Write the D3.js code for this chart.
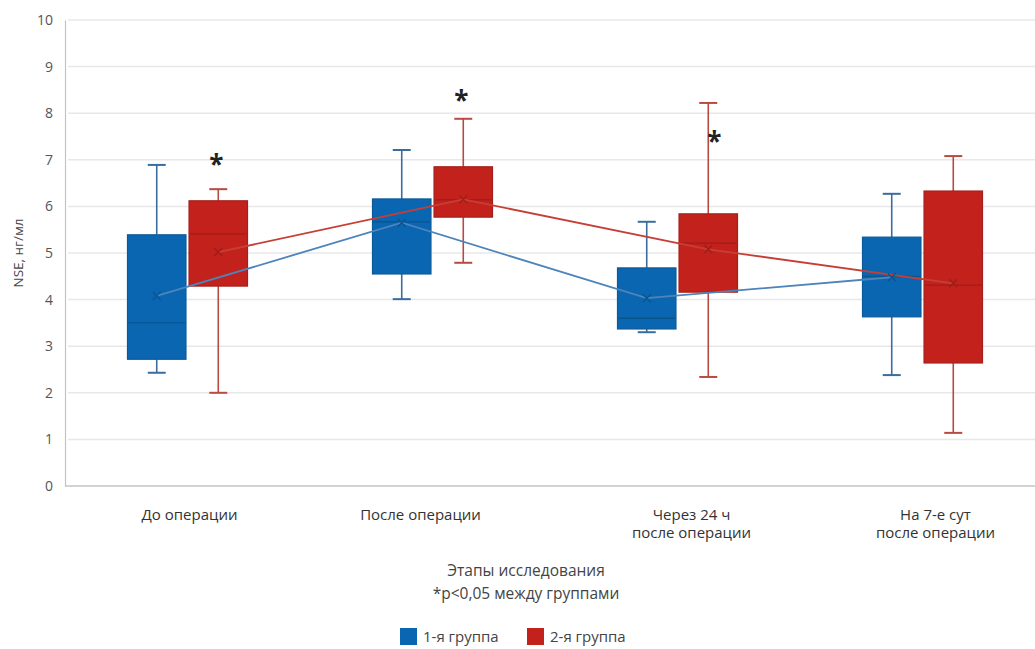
<!DOCTYPE html>
<html>
<head>
<meta charset="utf-8">
<script src="https://cdn.jsdelivr.net/npm/d3@7"></script>
<style>
  body { margin: 0; background: #fff; }
  svg { display: block; }
  text { font-family: "Open Sans", "DejaVu Sans", sans-serif; }
</style>
</head>
<body>
<svg id="chart" width="1035" height="649"></svg>
<script>
// Study stages
const stages = [
  ["До операции"],
  ["После операции"],
  ["Через 24 ч", "после операции"],
  ["На 7-е сут", "после операции"]
];
const stageKeys = stages.map(s => s.join(" "));
const groups = ["1-я группа", "2-я группа"];

// NSE, ng/ml — group 1 box statistics per stage
const g1Min    = [2.43, 4.01, 3.30, 2.38];
const g1Q1     = [2.72, 4.55, 3.37, 3.63];
const g1Median = [3.50, 5.67, 3.60, 4.50];
const g1Q3     = [5.39, 6.16, 4.68, 5.34];
const g1Max    = [6.89, 7.21, 5.67, 6.27];
const g1Mean   = [4.08, 5.65, 4.03, 4.48];

// group 2 box statistics per stage
const g2Min    = [2.00, 4.79, 2.34, 1.14];
const g2Q1     = [4.29, 5.77, 4.16, 2.64];
const g2Median = [5.41, 6.14, 5.21, 4.31];
const g2Q3     = [6.12, 6.85, 5.84, 6.33];
const g2Max    = [6.37, 7.88, 8.22, 7.08];
const g2Mean   = [5.02, 6.15, 5.08, 4.35];

// significance marks (p<0.05) placed at these levels, null = none
const sigLevel = [6.95, 8.32, 7.45, null];

const yTicks = [0, 1, 2, 3, 4, 5, 6, 7, 8, 9, 10];

const colors = {
  fill:   ["#0b66b1", "#c3221c"],
  edge:   ["#0a5998", "#a41f1a"],
  whisk:  ["#3a6c9e", "#b84a44"],
  line:   ["#4c84bb", "#c63f36"],
  median: ["#08548f", "#9e1d18"]
};

const svg = d3.select("#chart");
const plotLeft = 65, plotTop = 20, plotBottom = 486, band = 245;

const x = d3.scaleBand().domain(stageKeys).range([plotLeft, plotLeft + band * 4]);
const sub = d3.scaleBand().domain(groups).range([band / 2 - 60, band / 2 + 60]).paddingInner(0.05);
const y = d3.scaleLinear().domain([0, 10]).range([plotBottom, plotTop]);

// horizontal gridlines
svg.append("g")
  .selectAll("line")
  .data(yTicks.filter(t => t > 0))
  .join("line")
  .attr("x1", plotLeft + 3).attr("x2", 1035)
  .attr("y1", d => y(d)).attr("y2", d => y(d))
  .attr("stroke", "#e8e8e8").attr("stroke-width", 1.5);

// y axis
const yAxis = svg.append("g")
  .attr("transform", `translate(${plotLeft},0)`)
  .call(d3.axisLeft(y).tickValues(yTicks).tickSize(0).tickPadding(12).tickFormat(d3.format("d")));
yAxis.select(".domain").attr("stroke", "#c4c4c4").attr("stroke-width", 1.2);
yAxis.selectAll("text").attr("font-size", 14).attr("fill", "#555")
  .attr("font-family", "'Open Sans', sans-serif");

// x axis baseline
svg.append("line")
  .attr("x1", plotLeft).attr("x2", 1035)
  .attr("y1", y(0)).attr("y2", y(0))
  .attr("stroke", "#c4c4c4").attr("stroke-width", 1.5);

// y axis title
svg.append("text")
  .attr("transform", `translate(23,${(plotTop + plotBottom) / 2}) rotate(-90)`)
  .attr("text-anchor", "middle")
  .attr("font-size", 13.5).attr("fill", "#444")
  .text("NSE, нг/мл");

// build per-group records
const stats = [
  { mn: g1Min, q1: g1Q1, md: g1Median, q3: g1Q3, mx: g1Max, mean: g1Mean },
  { mn: g2Min, q1: g2Q1, md: g2Median, q3: g2Q3, mx: g2Max, mean: g2Mean }
];
const boxes = [];
stats.forEach((s, gi) => {
  stageKeys.forEach((k, i) => {
    boxes.push({
      gi, i,
      cx: x(k) + sub(groups[gi]) + sub.bandwidth() / 2,
      x0: x(k) + sub(groups[gi]),
      w: sub.bandwidth(),
      mn: s.mn[i], q1: s.q1[i], md: s.md[i], q3: s.q3[i], mx: s.mx[i], mean: s.mean[i]
    });
  });
});

const capW = 18;
const bx = svg.append("g").selectAll("g").data(boxes).join("g");

// whiskers
bx.append("line")
  .attr("x1", d => d.cx).attr("x2", d => d.cx)
  .attr("y1", d => y(d.mx)).attr("y2", d => y(d.q3))
  .attr("stroke", d => colors.whisk[d.gi]).attr("stroke-width", 1.6);
bx.append("line")
  .attr("x1", d => d.cx).attr("x2", d => d.cx)
  .attr("y1", d => y(d.q1)).attr("y2", d => y(d.mn))
  .attr("stroke", d => colors.whisk[d.gi]).attr("stroke-width", 1.6);
bx.append("line")
  .attr("x1", d => d.cx - capW / 2).attr("x2", d => d.cx + capW / 2)
  .attr("y1", d => y(d.mx)).attr("y2", d => y(d.mx))
  .attr("stroke", d => colors.whisk[d.gi]).attr("stroke-width", 2);
bx.append("line")
  .attr("x1", d => d.cx - capW / 2).attr("x2", d => d.cx + capW / 2)
  .attr("y1", d => y(d.mn)).attr("y2", d => y(d.mn))
  .attr("stroke", d => colors.whisk[d.gi]).attr("stroke-width", 2);

// boxes
bx.append("rect")
  .attr("x", d => d.x0).attr("width", d => d.w)
  .attr("y", d => y(d.q3)).attr("height", d => y(d.q1) - y(d.q3))
  .attr("fill", d => colors.fill[d.gi])
  .attr("stroke", d => colors.edge[d.gi]).attr("stroke-width", 1.2);

// medians
bx.append("line")
  .attr("x1", d => d.x0 + 1).attr("x2", d => d.x0 + d.w - 1)
  .attr("y1", d => y(d.md)).attr("y2", d => y(d.md))
  .attr("stroke", d => colors.median[d.gi]).attr("stroke-width", 1.3);

// mean trend lines
stats.forEach((s, gi) => {
  const pts = boxes.filter(b => b.gi === gi);
  svg.append("path")
    .datum(pts)
    .attr("fill", "none")
    .attr("stroke", colors.line[gi]).attr("stroke-width", 1.8)
    .attr("d", d3.line().x(d => d.cx).y(d => y(d.mean)));
});

// mean markers (x)
const mk = 4;
const mg = svg.append("g").selectAll("g").data(boxes).join("g")
  .attr("transform", d => `translate(${d.cx},${y(d.mean)})`);
mg.append("path")
  .attr("d", `M${-mk},${-mk}L${mk},${mk}M${-mk},${mk}L${mk},${-mk}`)
  .attr("stroke", d => colors.median[d.gi]).attr("stroke-width", 1.3).attr("fill", "none");

// significance asterisks above group 2
svg.append("g").selectAll("text")
  .data(stageKeys.map((k, i) => ({ k, i, v: sigLevel[i] })).filter(d => d.v !== null))
  .join("text")
  .attr("x", d => {
    const cx = x(d.k) + sub(groups[1]) + sub.bandwidth() / 2;
    return d.v < g2Max[d.i] ? cx + 6 : cx - 2;
  })
  .attr("y", d => y(d.v) + 12)
  .attr("text-anchor", "middle")
  .attr("font-size", 26).attr("font-weight", "bold").attr("fill", "#222")
  .attr("font-family", "'DejaVu Sans', sans-serif")
  .text("*");

// category labels (nudged sideways as in the layout)
const labelNudge = [2, -12, 14, 13];
const cat = svg.append("g").selectAll("text").data(stages).join("text")
  .attr("text-anchor", "middle")
  .attr("font-size", 15).attr("fill", "#333")
  .attr("transform", (d, i) => `translate(${x(stageKeys[i]) + band / 2 + labelNudge[i]},${plotBottom + 34})`);
cat.selectAll("tspan").data(d => d).join("tspan")
  .attr("x", 0).attr("dy", (d, j) => j === 0 ? 0 : 18)
  .text(d => d);

// axis title and footnote
svg.append("text")
  .attr("x", 526).attr("y", 576)
  .attr("text-anchor", "middle").attr("font-size", 15.5).attr("fill", "#444")
  .text("Этапы исследования");
svg.append("text")
  .attr("x", 526).attr("y", 599)
  .attr("text-anchor", "middle").attr("font-size", 15.5).attr("fill", "#444")
  .text("*p<0,05 между группами");

// legend
const legX = [400, 527];
const lg = svg.append("g").selectAll("g").data(groups).join("g")
  .attr("transform", (d, i) => `translate(${legX[i]},628)`);
lg.append("rect").attr("width", 17).attr("height", 17)
  .attr("fill", (d, i) => colors.fill[i]);
lg.append("text").attr("x", 23).attr("y", 13.5)
  .attr("font-size", 15).attr("fill", "#444")
  .text(d => d);
</script>
</body>
</html>
